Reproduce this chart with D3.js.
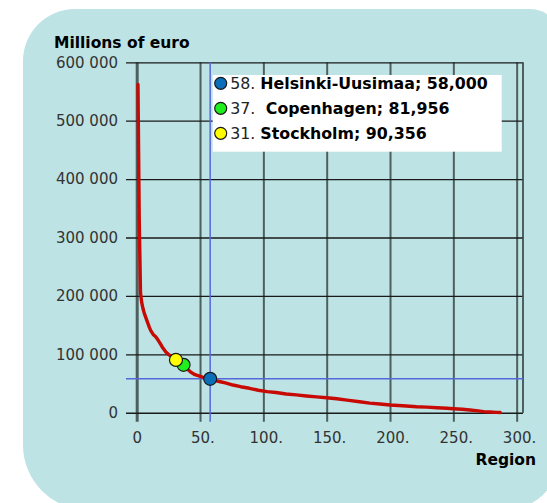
<!DOCTYPE html>
<html>
<head>
<meta charset="utf-8">
<script src="https://cdn.jsdelivr.net/npm/d3@7"></script>
<style>
  body { margin: 0; background: #fff; }
  svg { display: block; font-family: "DejaVu Sans", Verdana, sans-serif; }
</style>
</head>
<body>
<div id="chart"></div>
<script>
// GDP by region, sorted (rank -> millions of euro)
const regionRank = [1, 2, 3, 4, 5, 6, 8, 10, 11, 13, 15, 17, 19, 20, 22, 23, 25, 27, 29, 31,
  34, 37, 40, 43, 46, 49, 52, 55, 58, 62, 66, 70, 76, 82, 89, 96, 103, 110, 118, 126,
  134, 142, 150, 158, 166, 176, 184, 192, 200, 210, 221, 229, 237, 245, 250, 257, 263,
  268, 274, 279, 284, 287];
const gdpValue = [562000, 332000, 205000, 188000, 178000, 170000, 158000, 146000, 141000,
  134000, 130000, 124000, 117000, 113000, 107000, 104000, 100000, 97000, 93500, 90356,
  86000, 81956, 75000, 69000, 65000, 63000, 61000, 59500, 58000, 55000, 53000, 51000,
  47400, 44500, 41800, 38500, 36000, 34500, 32000, 30500, 28600, 27000, 25700, 23800,
  21500, 18800, 16300, 14800, 13200, 12000, 10300, 9500, 8600, 7500, 6800, 5800, 4600,
  3500, 1900, 1200, 500, 300];

// highlighted regions
const highlightRank = [58, 37, 31];
const highlightName = ["Helsinki-Uusimaa", " Copenhagen", "Stockholm"];
const highlightValue = [58000, 81956, 90356];
const highlightColor = ["#0a6fb8", "#1fee1f", "#ffff00"];

const xTicks = [0, 50, 100, 150, 200, 250, 300];
const yTicks = [0, 100000, 200000, 300000, 400000, 500000, 600000];

const width = 547, height = 503;
const plot = { left: 126, right: 523, top: 62.3, bottom: 412.7, x0: 136.7 };

const svg = d3.select("#chart").append("svg")
  .attr("width", width)
  .attr("height", height);

// background panel with uneven rounded corners
const px0 = 23, py0 = 9, px1 = 560, py1 = 510;
svg.append("path")
  .attr("d", `M${px0 + 52},${py0} H${px1 - 30} A30,30 0 0 1 ${px1},${py0 + 30}
    V${py1 - 55} A55,55 0 0 1 ${px1 - 55},${py1} H${px0 + 65}
    A65,65 0 0 1 ${px0},${py1 - 65} V${py0 + 52} A52,52 0 0 1 ${px0 + 52},${py0} Z`)
  .attr("fill", "#bde3e4");

const x = d3.scaleLinear().domain([0, 305]).range([plot.x0, plot.right]);
const y = d3.scaleLinear().domain([0, 600000]).range([plot.bottom, plot.top]);

const spaceFmt = d3.formatLocale({ decimal: ".", thousands: " ", grouping: [3], currency: ["", ""] }).format(",");

// vertical grid + x tick labels
const xAxis = svg.append("g")
  .attr("transform", `translate(0,${plot.top})`)
  .call(d3.axisBottom(x)
    .tickValues(xTicks)
    .tickSize(421.7 - plot.top)
    .tickPadding(11)
    .tickFormat((d) => (d === 0 ? "0" : d + ".")));
xAxis.select(".domain").remove();
xAxis.selectAll(".tick line")
  .attr("stroke", "#3b4848")
  .attr("stroke-opacity", 0.85)
  .attr("stroke-width", (d) => (d === 0 ? 3 : 2));
xAxis.selectAll(".tick text")
  .attr("font-size", 15)
  .attr("fill", "#333")
  .attr("dx", (d) => (d === 0 ? 0 : "0.16em"))
  .attr("font-family", "DejaVu Sans, Verdana, sans-serif");

// horizontal grid + y tick labels
const yAxis = svg.append("g")
  .attr("transform", `translate(${plot.right},0)`)
  .call(d3.axisLeft(y)
    .tickValues(yTicks)
    .tickSize(plot.right - plot.left)
    .tickPadding(8)
    .tickFormat(spaceFmt));
yAxis.select(".domain").remove();
yAxis.selectAll(".tick line")
  .attr("stroke", "#1a1a1a")
  .attr("stroke-width", (d) => (d === 0 ? 1.6 : 1.3));
yAxis.selectAll(".tick text")
  .attr("font-size", 15)
  .attr("fill", "#333")
  .attr("font-family", "DejaVu Sans, Verdana, sans-serif");

// right border of the plot
svg.append("line")
  .attr("x1", plot.right).attr("x2", plot.right)
  .attr("y1", plot.top).attr("y2", plot.bottom)
  .attr("stroke", "#3b4848").attr("stroke-opacity", 0.85).attr("stroke-width", 2);

// axis titles
svg.append("text")
  .attr("x", 54).attr("y", 47.5)
  .attr("font-size", 15.5).attr("font-weight", "bold")
  .text("Millions of euro");
svg.append("text")
  .attr("x", 536).attr("y", 464.5)
  .attr("text-anchor", "end")
  .attr("font-size", 15.5).attr("font-weight", "bold")
  .text("Region");

// crosshair on the first highlighted region
svg.append("line")
  .attr("x1", x(highlightRank[0])).attr("x2", x(highlightRank[0]))
  .attr("y1", plot.top).attr("y2", 421.7)
  .attr("stroke", "#5568dc").attr("stroke-width", 1.5);
svg.append("line")
  .attr("x1", plot.left).attr("x2", plot.right)
  .attr("y1", y(highlightValue[0])).attr("y2", y(highlightValue[0]))
  .attr("stroke", "#5568dc").attr("stroke-width", 1.5);

// ranked curve
const line = d3.line()
  .x((d, i) => x(regionRank[i]))
  .y((d) => y(d));
svg.append("path")
  .datum(gdpValue)
  .attr("d", line)
  .attr("fill", "none")
  .attr("stroke", "#c80a05")
  .attr("stroke-width", 3.4)
  .attr("stroke-linejoin", "round")
  .attr("stroke-linecap", "round");

// highlighted markers
svg.selectAll("circle.marker")
  .data(highlightRank)
  .join("circle")
  .attr("class", "marker")
  .attr("cx", (d) => x(d))
  .attr("cy", (d, i) => y(highlightValue[i]))
  .attr("r", 6.5)
  .attr("fill", (d, i) => highlightColor[i])
  .attr("stroke", "#1a1a1a")
  .attr("stroke-width", 1.2);

// legend
svg.append("rect")
  .attr("x", 212.7).attr("y", 75)
  .attr("width", 289).attr("height", 76.7)
  .attr("fill", "#fff");

const legend = svg.selectAll("g.legend-row")
  .data(highlightRank)
  .join("g")
  .attr("class", "legend-row")
  .attr("transform", (d, i) => `translate(220.7,${83.3 + i * 25})`);
legend.append("circle")
  .attr("r", 6)
  .attr("fill", (d, i) => highlightColor[i])
  .attr("stroke", "#1a1a1a")
  .attr("stroke-width", 1.2);
const legendText = legend.append("text")
  .attr("x", 9.5)
  .attr("dy", "0.36em")
  .attr("font-size", 15.8)
  .style("white-space", "pre");
legendText.append("tspan")
  .attr("fill", "#222")
  .text((d) => d + ". ");
legendText.append("tspan")
  .attr("font-weight", "bold")
  .text((d, i) => `${highlightName[i]}; ${d3.format(",")(highlightValue[i])}`);
</script>
</body>
</html>
